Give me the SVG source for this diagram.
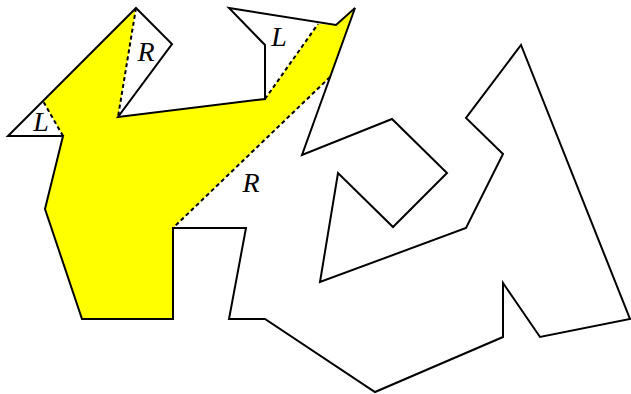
<svg xmlns="http://www.w3.org/2000/svg" width="631" height="394" viewBox="0 0 631 394">
<style>
.lbl{font-family:"Liberation Serif","DejaVu Serif",serif;font-style:italic;font-size:28px;text-anchor:middle;fill:#000}
.dash{fill:none;stroke:#000;stroke-width:2;stroke-dasharray:4,3}
</style>
<rect width="631" height="394" fill="#fff"/>
<g id="visible-region">
<polygon points="136,8 118,117 265,99 318,24 336,25 355,8 330,77 173,228 173,319 82,319 45,209 63,136 43,101" fill="#ffff00" stroke="none"/>
</g>
<g id="polygon">
<polygon points="136,8 172,44 118,117 265,99 265,45 229,8 336,25 355,8 302,155 392,119 447,173 393,227 338,173 320,282 466,228 503,154 466,118 521,45 630,319 540,337 503,283 503,337 375,392 265,319 229,319 246,228 173,228 173,319 82,319 45,209 63,136 8,136" fill="none" stroke="#000" stroke-width="2" stroke-linejoin="miter"/>
</g>
<g id="connectors">
<line class="dash" x1="136" y1="8" x2="118" y2="117"/>
<line class="dash" x1="265" y1="99" x2="318" y2="24"/>
<line class="dash" x1="330" y1="77" x2="173" y2="228"/>
<line class="dash" x1="63" y1="136" x2="43" y2="101"/>
</g>
<g id="labels">
<text class="lbl" x="146" y="61">R</text>
<text class="lbl" x="41" y="131">L</text>
<text class="lbl" x="279" y="46">L</text>
<text class="lbl" x="251" y="192">R</text>
</g>
</svg>
